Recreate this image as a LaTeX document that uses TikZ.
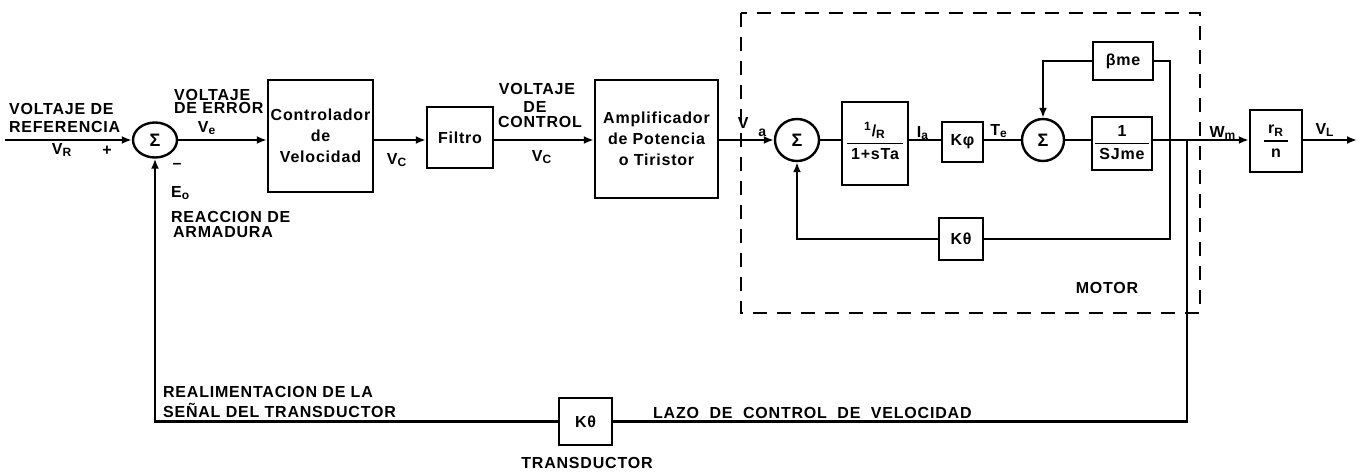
\documentclass[tikz,border=0pt]{standalone}
\usepackage{fontspec}
\newfontfamily\lf{Liberation Sans}[LetterSpace=5]
\usetikzlibrary{arrows.meta,shapes.geometric}
\newcommand\myfrac[2]{{\setlength{\arrayrulewidth}{0.8pt}\renewcommand{\arraystretch}{1.05}\begin{tabular}{@{\hspace{2pt}}c@{\hspace{2pt}}}#1\\\hline #2\end{tabular}}}
\begin{document}
\begin{tikzpicture}[x=0.5pt,y=-0.5pt,
  line width=1.1pt,
  txt/.style={font=\lf\bfseries\fontsize{8}{9.5}\selectfont, inner sep=0pt, align=center},
  blk/.style={draw, rectangle, line width=1.2pt, inner sep=0pt, font=\lf\bfseries\fontsize{8}{10.5}\selectfont, align=center},
  sumn/.style={draw, ellipse, line width=1.2pt, inner sep=0pt, font=\lf\bfseries\fontsize{9}{10}\selectfont},
  arr/.style={-{Latex[length=5pt,width=4pt]}},
  dbox/.style={line width=1.1pt, dash pattern=on 7pt off 5pt}
]
\useasboundingbox (0,0) rectangle (1365,472);

% blocks
\node[sumn, minimum width=22pt, minimum height=17.5pt] (s1) at (155,140) {Σ};
\node[blk, minimum width=52.5pt, minimum height=56pt] (ctl) at (320.5,136) {Controlador\\de\\Velocidad};
\node[blk, minimum width=33pt, minimum height=30.5pt] (fil) at (460,137.5) {Filtro};
\node[blk, minimum width=61.5pt, minimum height=59pt] (amp) at (656.5,139) {Amplificador\\de Potencia\\o Tiristor};
\node[sumn, minimum width=22pt, minimum height=21pt] (s2) at (797,140) {Σ};
\node[blk, minimum width=33pt, minimum height=41.5pt] (g1) at (875,143.5) {\myfrac{\textsuperscript{1}/\textsubscript{R}}{1+sTa}};
\node[blk, minimum width=20.5pt, minimum height=20pt] (kphi) at (962.5,142) {Kφ};
\node[sumn, minimum width=21pt, minimum height=21pt] (s3) at (1043,140) {Σ};
\node[blk, minimum width=30pt, minimum height=19pt] (bme) at (1123,61) {βme};
\node[blk, minimum width=30pt, minimum height=26.5pt] (sj) at (1122,143.5) {\myfrac{1}{SJme}};
\node[blk, minimum width=26pt, minimum height=31pt] (rn) at (1276,141) {\myfrac{r\textsubscript{R}}{n}};
\node[blk, minimum width=22pt, minimum height=21pt] (kt1) at (961,239) {Kθ};
\node[blk, minimum width=26.5pt, minimum height=23.5pt] (kt2) at (585.5,421.5) {Kθ};

% free ends / branch points
\coordinate (in) at (5,140);
\coordinate (out) at (1357,140);
\coordinate (n1) at (1170,140);
\coordinate (n2) at (1187,140);

% motor frame
\draw[dbox] (741,13) rectangle (1200,313);

% connectors
\draw[arr] (in) -- (s1.west);
\draw[arr] (s1.east) -- (ctl.west |- s1);
\draw[arr] (ctl.east |- s1) -- (fil.west |- s1);
\draw[arr] (fil.east |- s1) -- (amp.west |- s1);
\draw[arr] (amp.east |- s2) -- (s2.west);
\draw (s2.east) -- (g1.west |- s2);
\draw (g1.east |- s2) -- (kphi.west |- s2);
\draw (kphi.east |- s2) -- (s3.west);
\draw (s3.east) -- (sj.west |- s3);
\draw[arr] (sj.east |- s3) -- (rn.west |- s3);
\draw[arr] (rn.east |- s3) -- (out);
\draw (n1) |- (bme.east);
\draw[arr] (bme.west) -| (s3.north);
\draw (n1) |- (kt1.east);
\draw[arr] (kt1.west) -| (s2.south);
\draw (n2) |- (kt2.east);
\draw[arr] (kt2.west) -| (s1.south);

% labels
\node[txt, anchor=west] (t1) at (8,109) {VOLTAJE DE};
\node[txt, anchor=west] (t2) at (8,127) {REFERENCIA};
\node[txt] (t3) at (62,150) {V\textsubscript{R}};
\node[txt] (t4) at (107,151) {+};
\node[txt] (t5) at (177,166) {–};
\node[txt, anchor=west] (t6) at (173,95) {VOLTAJE};
\node[txt, anchor=west] (t7) at (173,108) {DE ERROR};
\node[txt] (t8) at (207,128) {V\textsubscript{e}};
\node[txt, anchor=west] (t9) at (170,193) {E\textsubscript{o}};
\node[txt, anchor=west] (t10) at (170,217) {REACCION DE};
\node[txt, anchor=west] (t11) at (172,232) {ARMADURA};
\node[txt] (t12) at (397,160) {V\textsubscript{C}};
\node[txt] (t13) at (537,89) {VOLTAJE};
\node[txt] (t14) at (535,107) {DE};
\node[txt] (t15) at (540,122) {CONTROL};
\node[txt] (t16) at (542,157) {V\textsubscript{C}};
\node[txt] (t17) at (752,127) {V\hspace{5pt}\raisebox{-4pt}{\scriptsize a}};
\node[txt] (t18) at (923,133) {I\textsubscript{a}};
\node[txt] (t19) at (999,131) {T\textsubscript{e}};
\node[txt] (t20) at (1107,288) {MOTOR};
\node[txt] (t21) at (1223,133) {W\textsubscript{m}};
\node[txt] (t22) at (1325,130) {V\textsubscript{L}};
\node[txt, anchor=west] (t23) at (162,392) {REALIMENTACION DE LA};
\node[txt, anchor=west] (t24) at (162,410) {SEÑAL DEL TRANSDUCTOR};
\node[txt] (t25) at (587,463) {TRANSDUCTOR};
\node[txt, anchor=west] (t26) at (652,413) {LAZO\ \ DE\ \ CONTROL\ \ DE\ \ VELOCIDAD};
\end{tikzpicture}
\end{document}
